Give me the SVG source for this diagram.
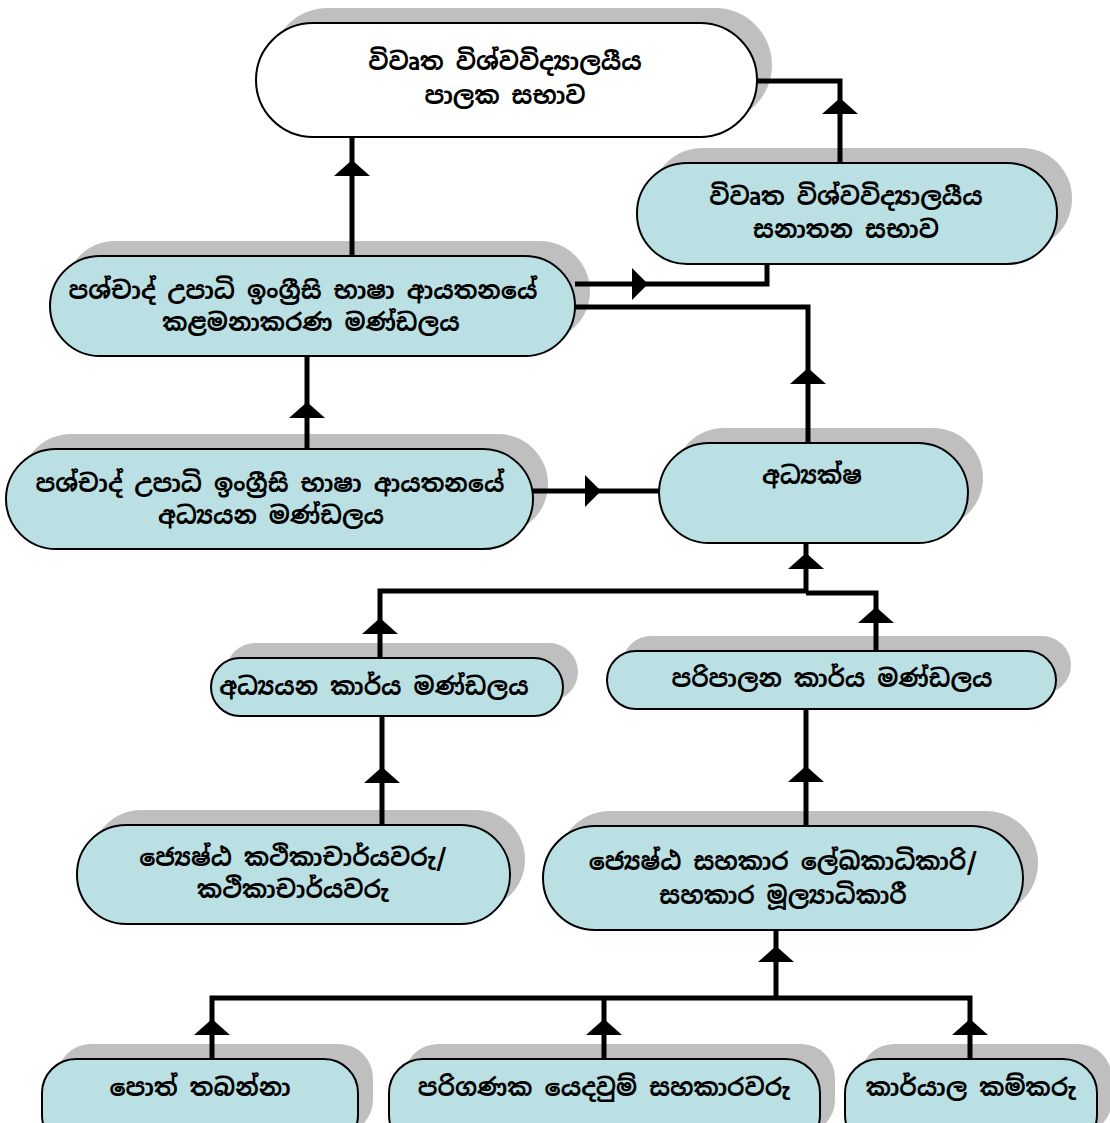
<svg xmlns="http://www.w3.org/2000/svg" width="1110" height="1123" viewBox="0 0 1110 1123">
<defs>
<style>
.sh{fill:#000;fill-opacity:0.25;stroke:none}
.bx{fill:#bae0e4;stroke:#000;stroke-width:2}
.wb{fill:#fff;stroke:#000;stroke-width:2}
.t{font-family:"Noto Sans Sinhala","Iskoola Pota","Noto Serif Sinhala","Noto Sans",sans-serif;font-size:24px;font-weight:bold;fill:#000;text-anchor:middle}
.ln{fill:none;stroke:#000;stroke-width:5}
</style>
<path id="au" d="M0,0 L18,16 L-18,16 Z" fill="#000"/>
<path id="ar" d="M0,0 L-16,-16 L-16,16 Z" fill="#000"/>
</defs>
<rect width="1110" height="1123" fill="#fff"/>
<g id="connectors">
<path class="ln" d="M352,256 V137"/>
<path class="ln" d="M757,81 H840 V163"/>
<path class="ln" d="M767,264 V284 H575"/>
<path class="ln" d="M575,307 H808 V443"/>
<path class="ln" d="M307,449 V356"/>
<path class="ln" d="M533,491 H659"/>
<path class="ln" d="M806,543 V591 M380,658 V591 H806 M806,593 H876 V651"/>
<path class="ln" d="M382,825 V716"/>
<path class="ln" d="M806,826 V709"/>
<path class="ln" d="M776,930 V998 M212,1059 V998 H970 V1059 M604,1059 V998"/>
<use href="#au" x="352" y="160"/>
<use href="#au" x="840" y="98"/>
<use href="#ar" x="648" y="284"/>
<use href="#au" x="808" y="368"/>
<use href="#au" x="307" y="402"/>
<use href="#ar" x="601" y="491"/>
<use href="#au" x="806" y="553"/>
<use href="#au" x="380" y="618"/>
<use href="#au" x="876" y="607"/>
<use href="#au" x="382" y="767"/>
<use href="#au" x="806" y="766"/>
<use href="#au" x="776" y="946"/>
<use href="#au" x="212" y="1019"/>
<use href="#au" x="604" y="1019"/>
<use href="#au" x="970" y="1019"/>
</g>
<g id="n1">
<rect class="sh" x="271" y="8" width="501" height="114" rx="57"/>
<rect class="wb" x="256" y="23" width="501" height="114" rx="57"/>
<text class="t" x="505" y="70">විවෘත විශ්වවිද්‍යාලයීය</text>
<text class="t" x="505" y="104">පාලක සභාව</text>
</g>
<g id="n2">
<rect class="sh" x="652" y="148" width="420" height="101" rx="50"/>
<rect class="bx" x="637" y="163" width="420" height="101" rx="50"/>
<text class="t" x="846" y="205">විවෘත විශ්වවිද්‍යාලයීය</text>
<text class="t" x="846" y="238">සනාතන සභාව</text>
</g>
<g id="n3">
<rect class="sh" x="65" y="241" width="525" height="100" rx="50"/>
<rect class="bx" x="50" y="256" width="525" height="100" rx="50"/>
<text class="t" x="303" y="299">පශ්චාද් උපාධි ඉංග්‍රීසි භාෂා ආයතනයේ</text>
<text class="t" x="311" y="331">කළමනාකරණ මණ්ඩලය</text>
</g>
<g id="n4">
<rect class="sh" x="21" y="434" width="527" height="100" rx="50"/>
<rect class="bx" x="6" y="449" width="527" height="100" rx="50"/>
<text class="t" x="270" y="492">පශ්චාද් උපාධි ඉංග්‍රීසි භාෂා ආයතනයේ</text>
<text class="t" x="271" y="524">අධ්‍යයන මණ්ඩලය</text>
</g>
<g id="n5">
<rect class="sh" x="674" y="428" width="309" height="100" rx="50"/>
<rect class="bx" x="659" y="443" width="309" height="100" rx="50"/>
<text class="t" x="812" y="484">අධ්‍යක්ෂ</text>
</g>
<g id="n6">
<rect class="sh" x="226" y="643" width="352" height="58" rx="29"/>
<rect class="bx" x="211" y="658" width="352" height="58" rx="29"/>
<text class="t" x="374" y="695">අධ්‍යයන කාර්ය මණ්ඩලය</text>
</g>
<g id="n7">
<rect class="sh" x="622" y="636" width="449" height="58" rx="29"/>
<rect class="bx" x="607" y="651" width="449" height="58" rx="29"/>
<text class="t" x="832" y="687">පරිපාලන කාර්ය මණ්ඩලය</text>
</g>
<g id="n8">
<rect class="sh" x="92" y="810" width="433" height="99" rx="49"/>
<rect class="bx" x="77" y="825" width="433" height="99" rx="49"/>
<text class="t" x="293" y="866">ජ්‍යෙෂ්ඨ කථිකාචාර්යවරු/</text>
<text class="t" x="293" y="898">කථිකාචාර්යවරු</text>
</g>
<g id="n9">
<rect class="sh" x="558" y="811" width="480" height="104" rx="52"/>
<rect class="bx" x="543" y="826" width="480" height="104" rx="52"/>
<text class="t" x="783" y="870">ජ්‍යෙෂ්ඨ සහකාර ලේඛකාධිකාරි/</text>
<text class="t" x="783" y="904">සහකාර මූල්‍යාධිකාරී</text>
</g>
<g id="n10">
<rect class="sh" x="57" y="1044" width="316" height="90" rx="34"/>
<rect class="bx" x="42" y="1059" width="316" height="90" rx="34"/>
<text class="t" x="200" y="1096">පොත් තබන්නා</text>
</g>
<g id="n11">
<rect class="sh" x="404" y="1044" width="431" height="90" rx="34"/>
<rect class="bx" x="389" y="1059" width="431" height="90" rx="34"/>
<text class="t" x="604" y="1096">පරිගණක යෙදවුම් සහකාරවරු</text>
</g>
<g id="n12">
<rect class="sh" x="860" y="1044" width="252" height="90" rx="34"/>
<rect class="bx" x="845" y="1059" width="252" height="90" rx="34"/>
<text class="t" x="971" y="1096">කාර්යාල කම්කරු</text>
</g>
</svg>
